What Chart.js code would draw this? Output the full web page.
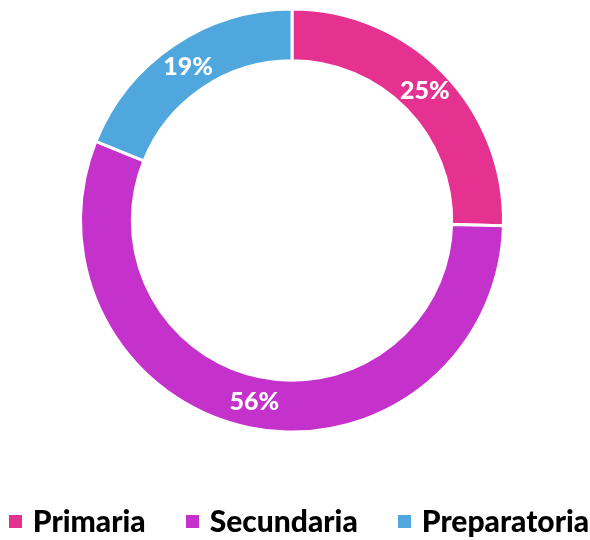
<!DOCTYPE html>
<html>
<head>
<meta charset="utf-8">
<script src="https://cdn.jsdelivr.net/npm/chart.js@4/dist/chart.umd.min.js"></script>
<style>
    body { margin: 0; background: #fff; }
    #wrap { position: relative; width: 590px; height: 540px; }
    #legend {
        position: absolute; left: 0; top: 502px; width: 590px;
        display: flex; justify-content: center; align-items: center;
        font-family: Lato, sans-serif; font-weight: 900; font-size: 30px; color: #000;
        padding-left: 8px; box-sizing: border-box;
    }
    .item { display: flex; align-items: center; margin: 0 20px; }
    .box { width: 13px; height: 13px; margin-right: 11px; margin-top: 3px; }
</style>
</head>
<body>
<div id="wrap">
    <canvas id="chart"></canvas>
    <div id="legend"></div>
</div>
<script>
// données
const niveles = ['Primaria', 'Secundaria', 'Preparatoria'];
const porcentajes = [25.4, 55.7, 18.9];
const colores = ['#E5318F', '#C431CB', '#4FA7DD'];

// étiquettes blanches au milieu de l'anneau
const etiquettes = {
    id: 'etiquettes',
    afterDatasetsDraw(chart) {
        const ctx = chart.ctx;
        const meta = chart.getDatasetMeta(0);
        ctx.save();
        ctx.fillStyle = '#fff';
        ctx.font = '900 25px Lato, sans-serif';
        ctx.textAlign = 'center';
        ctx.textBaseline = 'middle';
        meta.data.forEach((arc, i) => {
            const p = arc.tooltipPosition();
            ctx.fillText(Math.round(porcentajes[i]) + '%', p.x, p.y);
        });
        ctx.restore();
    }
};

const chart = new Chart(document.getElementById('chart'), {
    type: 'doughnut',
    data: {
        labels: niveles,
        datasets: [{
            data: porcentajes,
            backgroundColor: colores,
            borderColor: '#fff',
            borderWidth: 3,
            radius: 211.5,
            cutout: '75.5%'
        }]
    },
    options: {
        responsive: true,
        maintainAspectRatio: false,
        animation: false,
        layout: { padding: { top: 9, bottom: 108, left: 0, right: 6 } },
        plugins: {
            legend: { display: false },
            tooltip: { enabled: false }
        }
    },
    plugins: [etiquettes]
});

// légende en html
const legend = document.getElementById('legend');
niveles.forEach((nom, i) => {
    const item = document.createElement('div');
    item.className = 'item';
    const box = document.createElement('span');
    box.className = 'box';
    box.style.background = colores[i];
    item.appendChild(box);
    item.appendChild(document.createTextNode(nom));
    legend.appendChild(item);
});
</script>
</body>
</html>
